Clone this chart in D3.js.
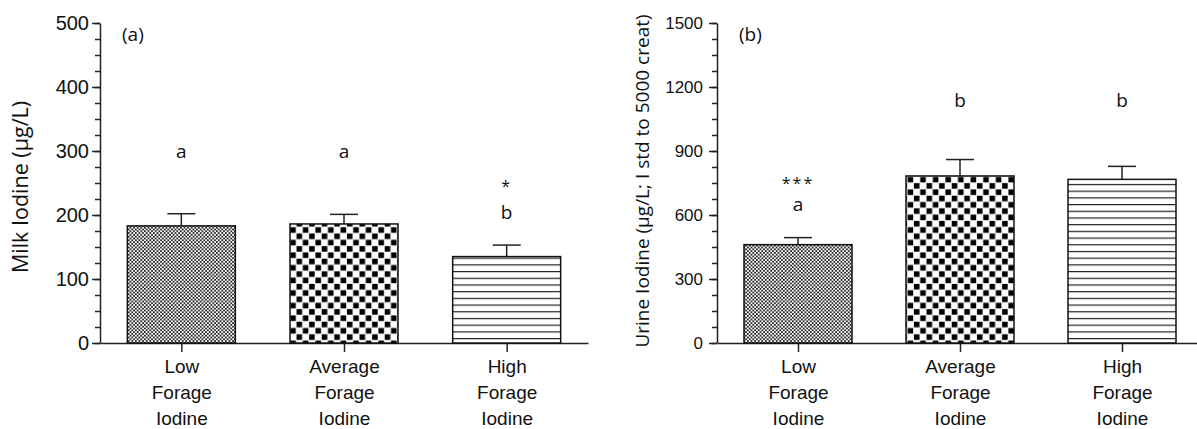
<!DOCTYPE html>
<html>
<head>
<meta charset="utf-8">
<script src="https://cdn.jsdelivr.net/npm/d3@7"></script>
<style>
  body { margin: 0; background: #fff; }
  svg { font-family: "Open Sans", sans-serif; }
  .axis path, .axis line { stroke: #222; stroke-width: 1.5; }
  .axis text { fill: #111; }
</style>
</head>
<body>
<script>
// Data
var categories = ["Low Forage Iodine", "Average Forage Iodine", "High Forage Iodine"];

var milkMean = [183, 186, 135];
var milkSem = [19, 15, 18];
var milkLetters = ["a", "a", "b"];
var milkLetterAt = [300, 300, 204];
var milkStars = ["", "", "*"];
var milkStarAt = [0, 0, 250];
var milkTicks = [0, 100, 200, 300, 400, 500];

var urineMean = [461, 783, 767];
var urineSem = [33, 77, 61];
var urineLetters = ["a", "b", "b"];
var urineLetterAt = [650, 1138, 1138];
var urineStars = ["***", "", ""];
var urineStarAt = [765, 0, 0];
var urineTicks = [0, 300, 600, 900, 1200, 1500];

var patterns = ["fine", "check", "lines"];

var width = 1197, height = 429;

var svg = d3.select("body").append("svg")
    .attr("width", width)
    .attr("height", height);

// Fill patterns
var defs = svg.append("defs");

var p1 = defs.append("pattern").attr("id", "fine")
    .attr("patternUnits", "userSpaceOnUse")
    .attr("width", 3.6).attr("height", 3.6);
p1.append("rect").attr("width", 3.6).attr("height", 3.6).attr("fill", "#fff");
p1.append("rect").attr("x", 0).attr("y", 0).attr("width", 1.7).attr("height", 1.7).attr("fill", "#111");
p1.append("rect").attr("x", 1.8).attr("y", 1.8).attr("width", 1.7).attr("height", 1.7).attr("fill", "#111");

var p2 = defs.append("pattern").attr("id", "check")
    .attr("patternUnits", "userSpaceOnUse")
    .attr("width", 12.6).attr("height", 12.6);
p2.append("rect").attr("width", 12.6).attr("height", 12.6).attr("fill", "#fff");
p2.append("rect").attr("x", 0.4).attr("y", 0.4).attr("width", 5.6).attr("height", 5.6).attr("fill", "#000");
p2.append("rect").attr("x", 6.7).attr("y", 6.7).attr("width", 5.6).attr("height", 5.6).attr("fill", "#000");

var p3 = defs.append("pattern").attr("id", "lines")
    .attr("patternUnits", "userSpaceOnUse")
    .attr("patternTransform", "translate(0,3)")
    .attr("width", 10).attr("height", 6.7);
p3.append("rect").attr("width", 10).attr("height", 6.7).attr("fill", "#fff");
p3.append("line").attr("x1", 0).attr("x2", 10).attr("y1", 0.6).attr("y2", 0.6)
    .attr("stroke", "#222").attr("stroke-width", 1.2);

function panel(opt) {
    var g = svg.append("g");

    var x = d3.scalePoint()
        .domain(categories)
        .range([opt.left, opt.right])
        .padding(0.5);

    var y = d3.scaleLinear()
        .domain([0, opt.max])
        .range([343, 23]);

    // minor ticks
    g.append("g")
        .attr("class", "axis")
        .attr("transform", "translate(" + opt.left + ",0)")
        .call(d3.axisLeft(y).tickValues(d3.range(0, opt.max + 1, opt.minor)).tickSize(5).tickFormat(""))
        .select(".domain").remove();

    g.append("g")
        .attr("class", "axis")
        .attr("transform", "translate(" + opt.left + ",0)")
        .call(d3.axisLeft(y).tickValues(opt.ticks).tickSize(8).tickPadding(opt.pad)
            .tickSizeOuter(0).tickFormat(d3.format("d")))
        .selectAll("text").style("font-size", opt.tickFont + "px");

    var xAxis = g.append("g")
        .attr("class", "axis")
        .attr("transform", "translate(0,343)")
        .call(d3.axisBottom(x).tickSize(9).tickSizeOuter(0).tickFormat(""));

    xAxis.selectAll(".tick").append("text")
        .attr("text-anchor", "middle")
        .attr("fill", "#111")
        .style("font-size", "19px")
        .selectAll("tspan")
        .data(function(d) { return d.split(" "); })
        .enter().append("tspan")
        .attr("x", 0)
        .attr("y", function(d, i) { return 30 + i * 26; })
        .text(function(d) { return d; });

    var barW = 108;

    // error bars
    var err = g.selectAll(".err").data(categories).enter().append("g")
        .attr("stroke", "#222").attr("stroke-width", 1.5);
    err.append("line")
        .attr("x1", function(d) { return x(d); })
        .attr("x2", function(d) { return x(d); })
        .attr("y1", function(d, i) { return y(opt.mean[i]); })
        .attr("y2", function(d, i) { return y(opt.mean[i] + opt.sem[i]); });
    err.append("line")
        .attr("x1", function(d) { return x(d) - 14; })
        .attr("x2", function(d) { return x(d) + 14; })
        .attr("y1", function(d, i) { return y(opt.mean[i] + opt.sem[i]); })
        .attr("y2", function(d, i) { return y(opt.mean[i] + opt.sem[i]); });

    g.selectAll(".bar").data(categories).enter().append("rect")
        .attr("x", function(d) { return x(d) - barW / 2; })
        .attr("y", function(d, i) { return y(opt.mean[i]); })
        .attr("width", barW)
        .attr("height", function(d, i) { return y(0) - y(opt.mean[i]); })
        .attr("fill", function(d, i) { return "url(#" + patterns[i] + ")"; })
        .attr("stroke", "#111")
        .attr("stroke-width", 1.5);

    // significance letters
    g.selectAll(".letter").data(categories).enter().append("text")
        .attr("x", function(d) { return x(d); })
        .attr("y", function(d, i) { return y(opt.letterAt[i]); })
        .attr("dy", "0.35em")
        .attr("text-anchor", "middle")
        .style("font-size", "19px")
        .attr("fill", "#111")
        .text(function(d, i) { return opt.letters[i]; });

    g.selectAll(".star").data(categories).enter().append("text")
        .attr("x", function(d) { return x(d); })
        .attr("y", function(d, i) { return y(opt.starAt[i]); })
        .attr("dy", "0.55em")
        .attr("text-anchor", "middle")
        .style("font-size", "16px")
        .style("letter-spacing", "2px")
        .attr("fill", "#111")
        .text(function(d, i) { return opt.stars[i]; });

    g.append("text")
        .attr("x", opt.left + 22)
        .attr("y", 41)
        .style("font-size", "19px")
        .attr("fill", "#111")
        .text(opt.tag);

    g.append("text")
        .attr("transform", "translate(" + opt.labelX + "," + opt.labelY + ") rotate(-90)")
        .attr("text-anchor", "middle")
        .attr("dy", "0.35em")
        .style("font-size", opt.labelFont + "px")
        .attr("fill", "#111")
        .text(opt.label);
}

panel({
    left: 100, right: 588, max: 500, minor: 25, ticks: milkTicks, pad: 3,
    tickFont: 20, labelFont: 21.5,
    mean: milkMean, sem: milkSem,
    letters: milkLetters, letterAt: milkLetterAt,
    stars: milkStars, starAt: milkStarAt,
    tag: "(a)", label: "Milk Iodine (\u00b5g/L)", labelX: 20, labelY: 187
});

panel({
    left: 717, right: 1203, max: 1500, minor: 75, ticks: urineTicks, pad: 6,
    tickFont: 17, labelFont: 19,
    mean: urineMean, sem: urineSem,
    letters: urineLetters, letterAt: urineLetterAt,
    stars: urineStars, starAt: urineStarAt,
    tag: "(b)", label: "Urine Iodine (\u00b5g/L; I std to 5000 creat)", labelX: 642, labelY: 181
});
</script>
</body>
</html>
